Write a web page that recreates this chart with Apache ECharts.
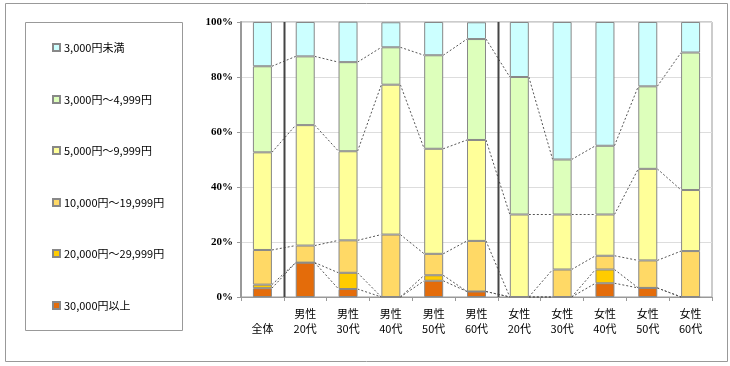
<!DOCTYPE html>
<html>
<head>
<meta charset="utf-8">
<script src="https://cdn.jsdelivr.net/npm/echarts@6/dist/echarts.min.js"></script>
<style>html,body{margin:0;padding:0;background:#fff}#c{width:730px;height:366px}</style>
</head>
<body>
<div id="c"></div>
<script>
var categories = ['\n全体','男性\n20代','男性\n30代','男性\n40代','男性\n50代','男性\n60代','女性\n20代','女性\n30代','女性\n40代','女性\n50代','女性\n60代'];
var seriesNames = ['30,000円以上','20,000円～29,999円','10,000円～19,999円','5,000円～9,999円','3,000円～4,999円','3,000円未満'];
var s30000plus   = [3.2, 12.5, 2.9, 0,    5.9, 2.0, 0,  0,  5,  3.3, 0];
var s20000_29999 = [1.3, 0,    5.9, 0,    2.0, 0,   0,  0,  5,  0,   0];
var s10000_19999 = [12.6, 6.2, 11.8, 22.7, 7.8, 18.4, 0, 10, 5,  10,  16.7];
var s5000_9999   = [35.5, 43.8, 32.4, 54.5, 38.2, 36.7, 30, 20, 15, 33.3, 22.2];
var s3000_4999   = [31.3, 25.0, 32.4, 13.6, 34.0, 36.7, 50, 20, 25, 30, 50];
var sUnder3000   = [16.1, 12.5, 14.7, 9.1, 12.1, 6.1, 20, 50, 45, 23.4, 11.1];
var colors = ['#E46C0A','#FFCC00','#FFD966','#FFFF99','#DDFFBB','#CCFFFF'];
var yTicks = [0,20,40,60,80,100];

var allSeries = [s30000plus, s20000_29999, s10000_19999, s5000_9999, s3000_4999, sUnder3000];
var cum = [];
for (var k = 0; k < allSeries.length; k++) {
  cum[k] = allSeries[k].map(function(v, i){ return v + (k > 0 ? cum[k-1][i] : 0); });
}
var linkData = [];
for (var k2 = 0; k2 < 5; k2++) {
  for (var i = 0; i < categories.length - 1; i++) {
    linkData.push([i, cum[k2][i], cum[k2][i+1]]);
  }
}
var BAR_W = 19;
var chart = echarts.init(document.getElementById('c'), null, {renderer:'canvas'});
var series = allSeries.map(function(arr, k){
  return {
    name: seriesNames[k], type: 'bar', stack: 'total', data: arr, barWidth: BAR_W,
    itemStyle: {color: colors[k], borderColor: '#888', borderWidth: 1},
    emphasis: {disabled: true}, z: 3
  };
});
series.push({
  type: 'custom', name: 'links', data: linkData, z: 2, silent: true,
  renderItem: function(params, api){
    var p0 = api.coord([api.value(0), api.value(1)]);
    var p1 = api.coord([api.value(0) + 1, api.value(2)]);
    return {type:'line', shape:{x1:p0[0]+BAR_W/2, y1:p0[1], x2:p1[0]-BAR_W/2, y2:p1[1]},
      style:{stroke:'#555', lineWidth:1, lineDash:[2,2]}};
  }
});
series.push({
  type: 'custom', name: 'sep', data: [[0],[5]], z: 4, silent: true,
  renderItem: function(params, api){
    var a = api.coord([api.value(0), 100]);
    var b = api.coord([api.value(0) + 1, 0]);
    var x = Math.round((a[0] + b[0]) / 2) + 0.5;
    return {type:'line', shape:{x1:x, y1:a[1], x2:x, y2:b[1]},
      style:{stroke:'#444', lineWidth:2}};
  }
});
var legendTops = [37, 89, 140, 192, 243, 295];
var legends = [];
for (var j = 0; j < 6; j++) {
  legends.push({
    data: [seriesNames[5 - j]], left: 47, top: legendTops[j], orient: 'vertical',
    itemWidth: 7, itemHeight: 7, itemGap: 2, selectedMode: false, icon: 'rect',
    textStyle: {fontSize: 11, color: '#000', fontFamily: 'Noto Sans CJK JP', padding: [0,0,0,-1]}
  });
}
chart.setOption({
  animation: false,
  graphic: [
    {type:'rect', shape:{x:5.5, y:3.5, width:722, height:358}, style:{fill:'none', stroke:'#999', lineWidth:1}, z:0},
    {type:'rect', shape:{x:25.5, y:22.5, width:157, height:308}, style:{fill:'none', stroke:'#999', lineWidth:1}, z:0}
  ],
  legend: legends,
  grid: {left: 241, top: 22, right: 18, bottom: 69, show: true, borderColor: '#999', borderWidth: 1},
  xAxis: {
    type: 'category', data: categories,
    axisLine: {lineStyle: {color: '#999', width: 1}},
    axisTick: {show: true, interval: 0, length: 4, lineStyle: {color: '#999'}},
    axisLabel: {interval: 0, margin: 9, lineHeight: 15, fontSize: 11, color: '#000', fontFamily: 'Noto Sans CJK JP'}
  },
  yAxis: {
    type: 'value', min: 0, max: 100, interval: 20,
    axisLine: {show: true, lineStyle: {color: '#999', width: 2}},
    axisTick: {show: true, length: 4, lineStyle: {color: '#999'}},
    axisLabel: {formatter: function(v){ return yTicks.indexOf(v) >= 0 ? v + '%' : ''; }, fontSize: 11, fontWeight: 'bold', color: '#000', fontFamily: 'Liberation Serif', margin: 8},
    splitLine: {lineStyle: {color: '#ddd', width: 1}}
  },
  series: series
});
</script>
</body>
</html>
